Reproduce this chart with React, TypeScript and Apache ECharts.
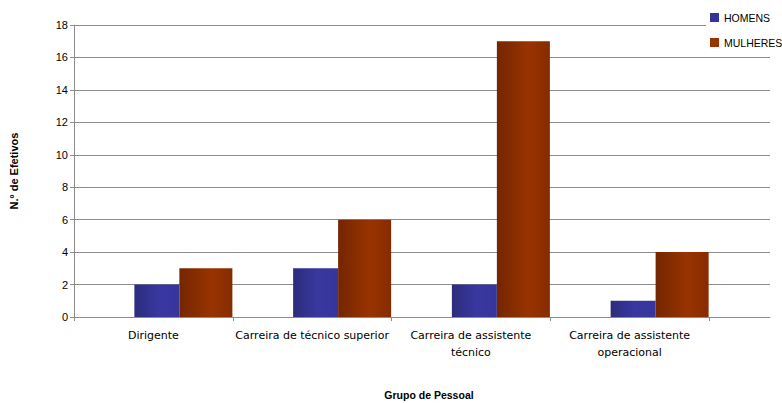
import React, { useEffect, useRef } from "react";
import * as echarts from "echarts";

// Staff groups and head counts by sex
const categories = [
  "Dirigente",
  "Carreira de técnico superior",
  "Carreira de assistente\ntécnico",
  "Carreira de assistente\noperacional",
];
const homens = [2, 3, 2, 1];
const mulheres = [3, 6, 17, 4];
const yTicks = { min: 0, max: 18, interval: 2 };

const FONT = "'Liberation Sans', Arial, sans-serif";
const LABEL_FONT = "'DejaVu Sans', sans-serif";
const GRID_COLOR = "#8c8c8c";

const blueFill = new echarts.graphic.LinearGradient(0, 0, 1, 0, [
  { offset: 0, color: "#2c2c7c" },
  { offset: 0.55, color: "#3838a0" },
  { offset: 1, color: "#35359a" },
]);
const redFill = new echarts.graphic.LinearGradient(0, 0, 1, 0, [
  { offset: 0, color: "#742600" },
  { offset: 0.6, color: "#993300" },
  { offset: 1, color: "#862c00" },
]);

export default function App() {
  const ref = useRef<HTMLDivElement>(null);

  useEffect(() => {
    if (!ref.current) return;
    const chart = echarts.init(ref.current, null, { renderer: "svg" });

    chart.setOption({
      animation: false,
      backgroundColor: "#ffffff",
      textStyle: { fontFamily: FONT },
      legend: {
        orient: "vertical",
        left: 706,
        top: 10,
        padding: [2, 2, 2, 4],
        backgroundColor: "#ffffff",
        itemWidth: 9,
        itemHeight: 9,
        itemGap: 14,
        icon: "rect",
        textStyle: { fontFamily: FONT, fontSize: 10.5, color: "#000" },
        data: [
          { name: "HOMENS", itemStyle: { color: "#333399" } },
          { name: "MULHERES", itemStyle: { color: "#993300" } },
        ],
      },
      grid: [
        { left: 74, right: 73, top: 25, bottom: 86 },
        { left: 74, right: 12, top: 25, bottom: 86 },
      ],
      xAxis: [
        {
          type: "category",
          gridIndex: 0,
          data: categories,
          axisLine: { show: false },
          axisTick: { show: true, length: 4, lineStyle: { color: GRID_COLOR } },
          axisLabel: {
            color: "#000",
            fontSize: 11,
            fontFamily: LABEL_FONT,
            margin: 10,
            lineHeight: 17,
            interval: 0,
          },
        },
        {
          type: "category",
          gridIndex: 1,
          data: [""],
          axisLine: { show: true, lineStyle: { color: GRID_COLOR } },
          axisTick: { show: false },
          axisLabel: { show: false },
        },
      ],
      yAxis: [
        {
          type: "value",
          gridIndex: 0,
          ...yTicks,
          show: false,
          splitLine: { show: false },
        },
        {
          type: "value",
          gridIndex: 1,
          ...yTicks,
          name: "N.º de Efetivos",
          nameLocation: "middle",
          nameRotate: 90,
          nameGap: 55,
          nameTextStyle: { fontFamily: FONT, fontSize: 11, fontWeight: "bold", color: "#000" },
          axisLine: { show: true, lineStyle: { color: GRID_COLOR } },
          axisTick: { show: true, length: 4, lineStyle: { color: GRID_COLOR } },
          axisLabel: { color: "#000", fontSize: 11, fontFamily: FONT, margin: 6 },
          splitLine: { show: true, lineStyle: { color: GRID_COLOR, width: 1 } },
        },
      ],
      series: [
        {
          // empty leading slot that pushes the pair of bars to the right of each group
          name: "",
          type: "bar",
          xAxisIndex: 0,
          yAxisIndex: 0,
          data: categories.map(() => "-"),
          barWidth: 60,
          barGap: "0%",
          barCategoryGap: "0%",
          silent: true,
          itemStyle: { color: "transparent" },
        },
        {
          name: "HOMENS",
          type: "bar",
          xAxisIndex: 0,
          yAxisIndex: 0,
          data: homens,
          barWidth: 45,
          barGap: "0%",
          itemStyle: { color: blueFill },
        },
        {
          name: "MULHERES",
          type: "bar",
          xAxisIndex: 0,
          yAxisIndex: 0,
          data: mulheres,
          barWidth: 53,
          barGap: "0%",
          itemStyle: { color: redFill },
        },
      ],
      graphic: [
        {
          type: "text",
          x: 429,
          y: 389,
          style: {
            text: "Grupo de Pessoal",
            font: `bold 10.5px ${FONT}`,
            fill: "#000",
            align: "center",
          },
        },
      ],
    });

    return () => chart.dispose();
  }, []);

  return (
    <div
      ref={ref}
      style={{ position: "fixed", left: 0, top: 0, width: 782, height: 403 }}
    />
  );
}
